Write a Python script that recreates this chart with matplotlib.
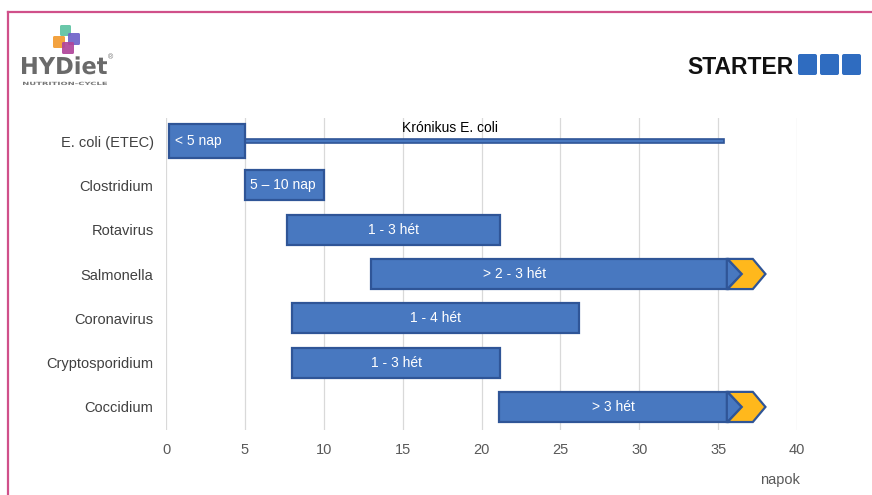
import matplotlib.pyplot as plt
from matplotlib.patches import Polygon, FancyBboxPatch, PathPatch
from matplotlib.textpath import TextPath
from matplotlib.font_manager import FontProperties
from matplotlib.transforms import Affine2D

plt.rcParams['font.family'] = ['Liberation Sans', 'DejaVu Sans']

# data
categories = ['E. coli (ETEC)', 'Clostridium', 'Rotavirus', 'Salmonella',
              'Coronavirus', 'Cryptosporidium', 'Coccidium']
starts = [0.2, 5, 7.7, 13, 8, 8, 21.1]
ends = [5, 10, 21.2, 35.6, 26.2, 21.2, 35.6]
bar_labels = ['< 5 nap', '5 – 10 nap', '1 - 3 hét', '> 2 - 3 hét',
              '1 - 4 hét', '1 - 3 hét', '> 3 hét']
ongoing = [False, False, False, True, False, False, True]
chronic_start = 5
chronic_end = 35.4
chronic_label = 'Krónikus E. coli'
xticks = [0, 5, 10, 15, 20, 25, 30, 35, 40]

fill = '#4878c0'
edge = '#2f5597'
yellow = '#ffb81c'

fig = plt.figure(figsize=(8.72, 4.95), dpi=100)
W, H = 872, 495

# chart area
ax = fig.add_axes([166 / W, 1 - 430 / H, (797 - 166) / W, (430 - 118) / H])
ax.set_xlim(0, 40)
ax.set_ylim(6.52, -0.52)
ypos = list(range(len(categories)))

label_shift = {3: -2.2}  # Salmonella label sits left of centre in the original

for i in ypos:
    h = 0.77 if i == 0 else 0.68
    ax.barh(i, ends[i] - starts[i], left=starts[i], height=h,
            color=fill, edgecolor=edge, linewidth=1.6, zorder=3)
    if ongoing[i]:
        e = ends[i]
        top, bot = i - h / 2, i + h / 2
        ax.add_patch(Polygon([(e - 0.05, top), (e, top), (e + 0.9, i), (e, bot), (e - 0.05, bot)],
                             closed=True, facecolor=fill, edgecolor=edge, lw=1.6, zorder=3))
        ax.add_patch(Polygon([(e, top), (e + 1.6, top), (e + 2.4, i), (e + 1.6, bot),
                              (e, bot), (e + 0.9, i)],
                             closed=True, facecolor=yellow, edgecolor=edge, lw=1.6, zorder=4))
    if i < 2:
        ax.text(starts[i] + 0.35, i, bar_labels[i], color='white', fontsize=10,
                ha='left', va='center', zorder=5)
    else:
        xc = (starts[i] + ends[i]) / 2 + label_shift.get(i, 0)
        ax.text(xc, i, bar_labels[i], color='white', fontsize=10,
                ha='center', va='center', zorder=5)

# chronic E. coli line
ax.barh(0, chronic_end - chronic_start, left=chronic_start, height=0.1,
        color=fill, edgecolor=edge, linewidth=1.2, zorder=2)
ax.text((chronic_start + chronic_end) / 2 - 2.2, -0.29, chronic_label, fontsize=10,
        color='black', ha='center', va='center', zorder=5)

ax.set_yticks(ypos)
ax.set_yticklabels(categories, fontsize=10.5, color='#404040')
ax.set_xticks(xticks)
ax.set_xticklabels([str(t) for t in xticks], fontsize=10.5, color='#595959')
ax.tick_params(length=0)
ax.tick_params(axis='x', pad=9)
ax.tick_params(axis='y', pad=9)
ax.grid(axis='x', color='#d9d9d9', lw=0.9, zorder=0)
ax.set_axisbelow(True)
for s in ax.spines.values():
    s.set_visible(False)

# overlay in pixel coordinates for frame, logos, axis title
ov = fig.add_axes([0, 0, 1, 1], zorder=-1)
ov.set_xlim(0, W)
ov.set_ylim(H, 0)
ov.axis('off')

ov.plot([8, W], [12, 12], color='#d0508a', lw=1.6)
ov.plot([8, 8], [12, H], color='#d0508a', lw=1.6)

ov.text(780, 480, 'napok', fontsize=10.5, color='#595959', ha='center', va='center')


def fitted_text(s, x0, x1, y_base, cap, color, weight='normal'):
    tp = TextPath((0, 0), s, size=10, prop=FontProperties(family='DejaVu Sans', weight=weight))
    bb = tp.get_extents()
    sx = (x1 - x0) / bb.width
    sy = cap / (10 * 0.73)
    tr = Affine2D().translate(-bb.x0, 0).scale(sx, -sy).translate(x0, y_base)
    ov.add_patch(PathPatch(tr.transform_path(tp), facecolor=color, edgecolor='none'))


# HYDiet logo
for (x0, y0, w, h, c) in [(60, 25, 11, 11, '#5cc3a2'), (53, 36, 12, 12, '#f39a2e'),
                          (68, 33, 12, 12, '#6e63c9'), (62, 42, 12, 12, '#b0449a')]:
    ov.add_patch(FancyBboxPatch((x0, y0), w, h, boxstyle='round,pad=0,rounding_size=1.5',
                                facecolor=c, edgecolor='none', alpha=0.92))
fitted_text('HYDiet', 22, 107, 74, 17, '#6a6a6a', weight='bold')
ov.text(108, 58, '®', fontsize=5, color='#6a6a6a', ha='left', va='center')
fitted_text('NUTRITION-CYCLE', 23, 107, 85, 3.2, '#777777', weight='bold')

# STARTER logo
ov.text(740, 67, 'STARTER', fontsize=16.5, fontweight='bold', color='#111111',
        ha='center', va='center')
for x0 in [798, 820, 842]:
    ov.add_patch(FancyBboxPatch((x0, 54), 19, 21, boxstyle='round,pad=0,rounding_size=2',
                                facecolor='#2f6cc0', edgecolor='none'))

fig.savefig('out.png', dpi=100)
